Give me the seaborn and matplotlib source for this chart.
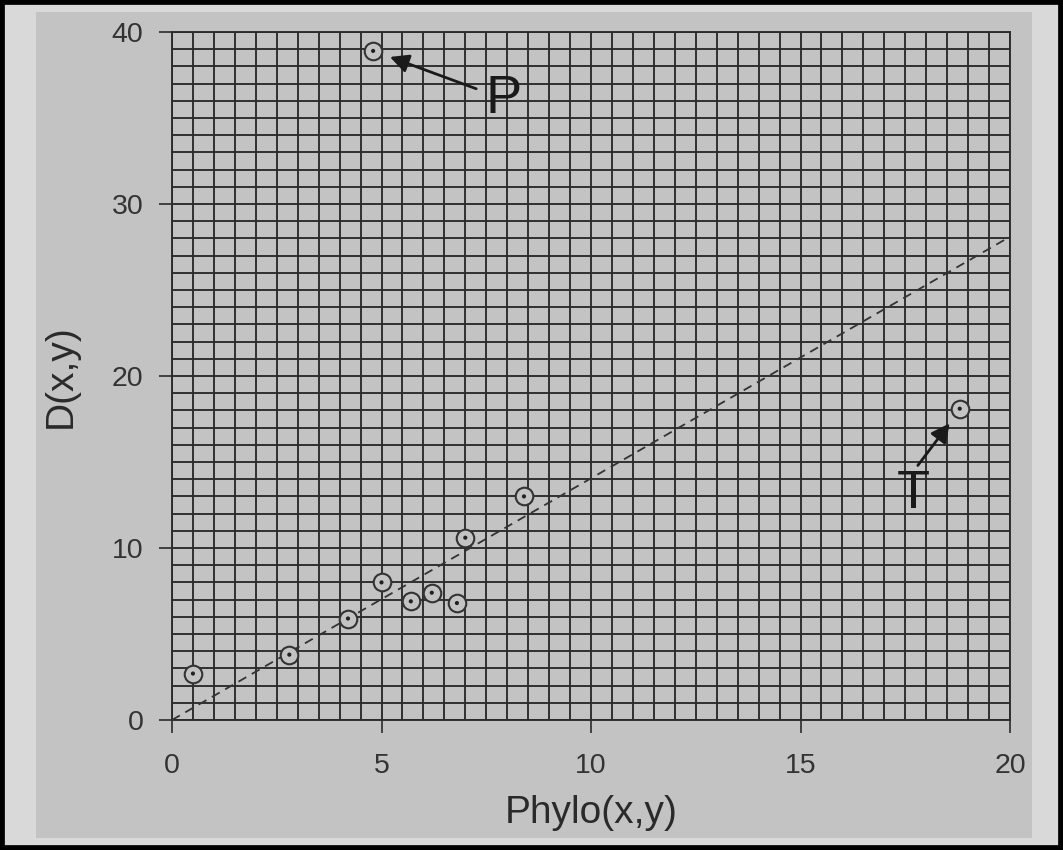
import numpy as np
import pandas as pd
import matplotlib.pyplot as plt
from matplotlib.patches import Rectangle
import seaborn as sns

# data
phylo = [0.5, 2.8, 4.2, 5.0, 5.7, 6.2, 6.8, 7.0, 8.4, 4.8, 18.8]
dist = [2.7, 3.8, 5.9, 8.0, 6.9, 7.4, 6.8, 10.6, 13.0, 38.9, 18.1]

# dashed reference line
fit_x = [0, 20]
fit_y = [0, 28.1]

# labelled outliers: letter position, arrow tail, arrow head
labels = ['P', 'T']
label_pos = [(7.92, 35.3), (17.69, 12.3)]
arrow_tail = [(7.26, 36.7), (17.8, 14.8)]
arrow_head = [(5.2, 38.55), (18.56, 17.25)]

xticks = [0, 5, 10, 15, 20]
yticks = [0, 10, 20, 30, 40]

df = pd.DataFrame({'phylo': phylo, 'dist': dist})
line_df = pd.DataFrame({'x': fit_x, 'y': fit_y})

sns.set_theme(style='ticks')
plt.rcParams['font.family'] = ['Liberation Sans', 'DejaVu Sans']

panel = '#c3c3c3'
ink = '#2a2a2a'

fig = plt.figure(figsize=(10.63, 8.5), dpi=100)
fig.patch.set_facecolor('#d9d9d9')
fig.patches.append(Rectangle((36 / 1063, 12 / 850), 996 / 1063, 826 / 850,
                             transform=fig.transFigure, facecolor=panel,
                             edgecolor='none', zorder=-5))
fig.patches.append(Rectangle((0, 0), 1, 1, transform=fig.transFigure,
                             fill=False, edgecolor='black', lw=7, zorder=10))

ax = fig.add_axes([172 / 1063, 130 / 850, 838 / 1063, 688 / 850])
ax.set_facecolor(panel)

sns.lineplot(data=line_df, x='x', y='y', ax=ax, color='#333333', lw=1.3,
             linestyle=(0, (5, 3.5)), zorder=3)
sns.scatterplot(data=df, x='phylo', y='dist', ax=ax, marker='o', s=160,
                facecolor=panel, edgecolor='#333333', linewidth=1.5, zorder=4)
sns.scatterplot(data=df, x='phylo', y='dist', ax=ax, marker='o', s=9,
                color='#222222', edgecolor='none', zorder=5)

ax.set_xlim(0, 20)
ax.set_ylim(0, 40)
ax.set_xticks(xticks)
ax.set_yticks(yticks)
ax.set_xticks(np.arange(0, 20.01, 0.5), minor=True)
ax.set_yticks(np.arange(0, 40.01, 1), minor=True)
ax.grid(which='both', color='#2b2b2b', lw=1.35)
ax.set_axisbelow(True)
ax.tick_params(which='minor', length=0)
ax.tick_params(which='major', length=9.5, width=1.2, color=ink,
               labelsize=20.5, labelcolor='#333333', pad=11)
ax.tick_params(axis='x', which='major', pad=14)
for s in ax.spines.values():
    s.set_color('#2b2b2b')
    s.set_linewidth(1.35)

ax.set_xlabel('Phylo(x,y)', fontsize=28, color=ink, labelpad=12)
ax.set_ylabel('D(x,y)', fontsize=28, color=ink, labelpad=24)

for lab, pos, tail, head in zip(labels, label_pos, arrow_tail, arrow_head):
    ax.text(pos[0], pos[1], lab, fontsize=39, color='#1a1a1a',
            ha='center', va='baseline', zorder=6)
    ax.annotate('', xy=head, xytext=tail,
                arrowprops=dict(arrowstyle='-|>', color='#1a1a1a', lw=2.0,
                                mutation_scale=28, shrinkA=0, shrinkB=0),
                zorder=6)

fig.savefig('out.png', dpi=100, facecolor=fig.get_facecolor())
